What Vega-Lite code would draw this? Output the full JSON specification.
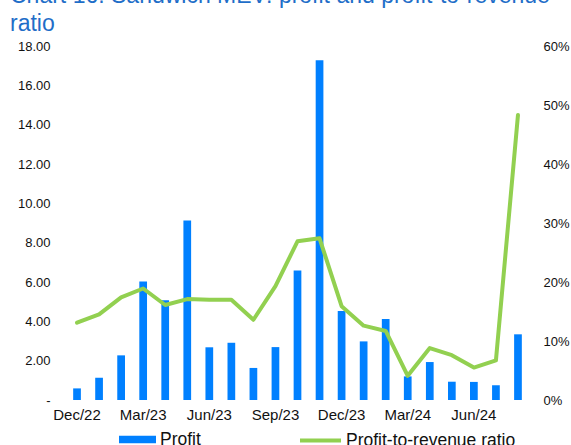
{
  "$schema": "https://vega.github.io/schema/vega-lite/v6.json",
  "autosize": "none",
  "width": 463,
  "height": 354,
  "padding": {"left": 66, "top": 46, "right": 42, "bottom": 45},
  "background": "white",
  "title": {
    "text": ["Chart 16: Sandwich MEV: profit and profit-to-revenue", "ratio"],
    "anchor": "start",
    "frame": "group",
    "font": "Liberation Sans",
    "fontSize": 23,
    "fontWeight": "normal",
    "lineHeight": 28,
    "color": "#1F6EC8",
    "dx": -56,
    "offset": 4
  },
  "config": {
    "view": {"stroke": null},
    "axis": {
      "grid": false,
      "domain": false,
      "ticks": false,
      "tickSize": 0,
      "labelFont": "Liberation Sans",
      "labelColor": "#111111",
      "title": null
    },
    "legend": {"padding": 0}
  },
  "data": {
    "values": [
      {"month": "Dec/22", "profit": 0.59, "ratio": 0.131},
      {"month": "Jan/23", "profit": 1.13, "ratio": 0.145},
      {"month": "Feb/23", "profit": 2.27, "ratio": 0.174},
      {"month": "Mar/23", "profit": 6.02, "ratio": 0.189},
      {"month": "Apr/23", "profit": 5.07, "ratio": 0.161},
      {"month": "May/23", "profit": 9.13, "ratio": 0.171},
      {"month": "Jun/23", "profit": 2.68, "ratio": 0.170},
      {"month": "Jul/23", "profit": 2.91, "ratio": 0.170},
      {"month": "Aug/23", "profit": 1.63, "ratio": 0.136},
      {"month": "Sep/23", "profit": 2.69, "ratio": 0.193},
      {"month": "Oct/23", "profit": 6.59, "ratio": 0.269},
      {"month": "Nov/23", "profit": 17.28, "ratio": 0.274},
      {"month": "Dec/23", "profit": 4.52, "ratio": 0.159},
      {"month": "Jan/24", "profit": 2.98, "ratio": 0.126},
      {"month": "Feb/24", "profit": 4.12, "ratio": 0.117},
      {"month": "Mar/24", "profit": 1.2, "ratio": 0.041},
      {"month": "Apr/24", "profit": 1.93, "ratio": 0.088},
      {"month": "May/24", "profit": 0.93, "ratio": 0.076},
      {"month": "Jun/24", "profit": 0.92, "ratio": 0.055},
      {"month": "Jul/24", "profit": 0.75, "ratio": 0.067},
      {"month": "Aug/24", "profit": 3.34, "ratio": 0.483}
    ]
  },
  "encoding": {
    "x": {
      "field": "month",
      "type": "ordinal",
      "sort": null,
      "scale": {"paddingInner": 0.65, "paddingOuter": 0.325},
      "axis": {
        "values": ["Dec/22", "Mar/23", "Jun/23", "Sep/23", "Dec/23", "Mar/24", "Jun/24"],
        "labelAngle": 0,
        "labelFontSize": 15,
        "labelPadding": 7
      }
    }
  },
  "layer": [
    {
      "mark": {"type": "bar", "cornerRadius": 0},
      "encoding": {
        "y": {
          "field": "profit",
          "type": "quantitative",
          "scale": {"domain": [0, 18], "nice": false},
          "axis": {
            "orient": "left",
            "values": [0, 2, 4, 6, 8, 10, 12, 14, 16, 18],
            "labelExpr": "datum.value === 0 ? '-\u00a0\u00a0\u00a0\u00a0' : format(datum.value, '.2f')",
            "labelFontSize": 13,
            "labelPadding": 16
          }
        },
        "fill": {
          "datum": "Profit",
          "scale": {"range": ["#0080FF"]},
          "legend": {
            "title": null,
            "orient": "none",
            "legendX": 53,
            "legendY": 375,
            "symbolType": "M-1,-0.2H1V0.2H-1Z",
            "symbolSize": 1369,
            "symbolStrokeWidth": 0,
            "labelFont": "Liberation Sans",
            "labelFontSize": 17.5,
            "labelColor": "#111111",
            "labelOffset": 4,
            "labelLimit": 300
          }
        }
      }
    },
    {
      "mark": {"type": "line", "strokeWidth": 4, "strokeJoin": "round", "strokeCap": "round"},
      "encoding": {
        "y": {
          "field": "ratio",
          "type": "quantitative",
          "scale": {"domain": [0, 0.6], "nice": false},
          "axis": {
            "orient": "right",
            "values": [0, 0.1, 0.2, 0.3, 0.4, 0.5, 0.6],
            "format": ".0%",
            "labelFontSize": 13,
            "labelPadding": 14
          }
        },
        "stroke": {
          "datum": "Profit-to-revenue ratio",
          "scale": {"range": ["#92D050"]},
          "legend": {
            "title": null,
            "orient": "none",
            "legendX": 232,
            "legendY": 372,
            "symbolType": "stroke",
            "symbolSize": 1681,
            "symbolStrokeWidth": 4,
            "labelFont": "Liberation Sans",
            "labelFontSize": 17.5,
            "labelColor": "#111111",
            "labelOffset": 3,
            "labelLimit": 300
          }
        }
      }
    }
  ],
  "resolve": {"scale": {"y": "independent"}}
}
